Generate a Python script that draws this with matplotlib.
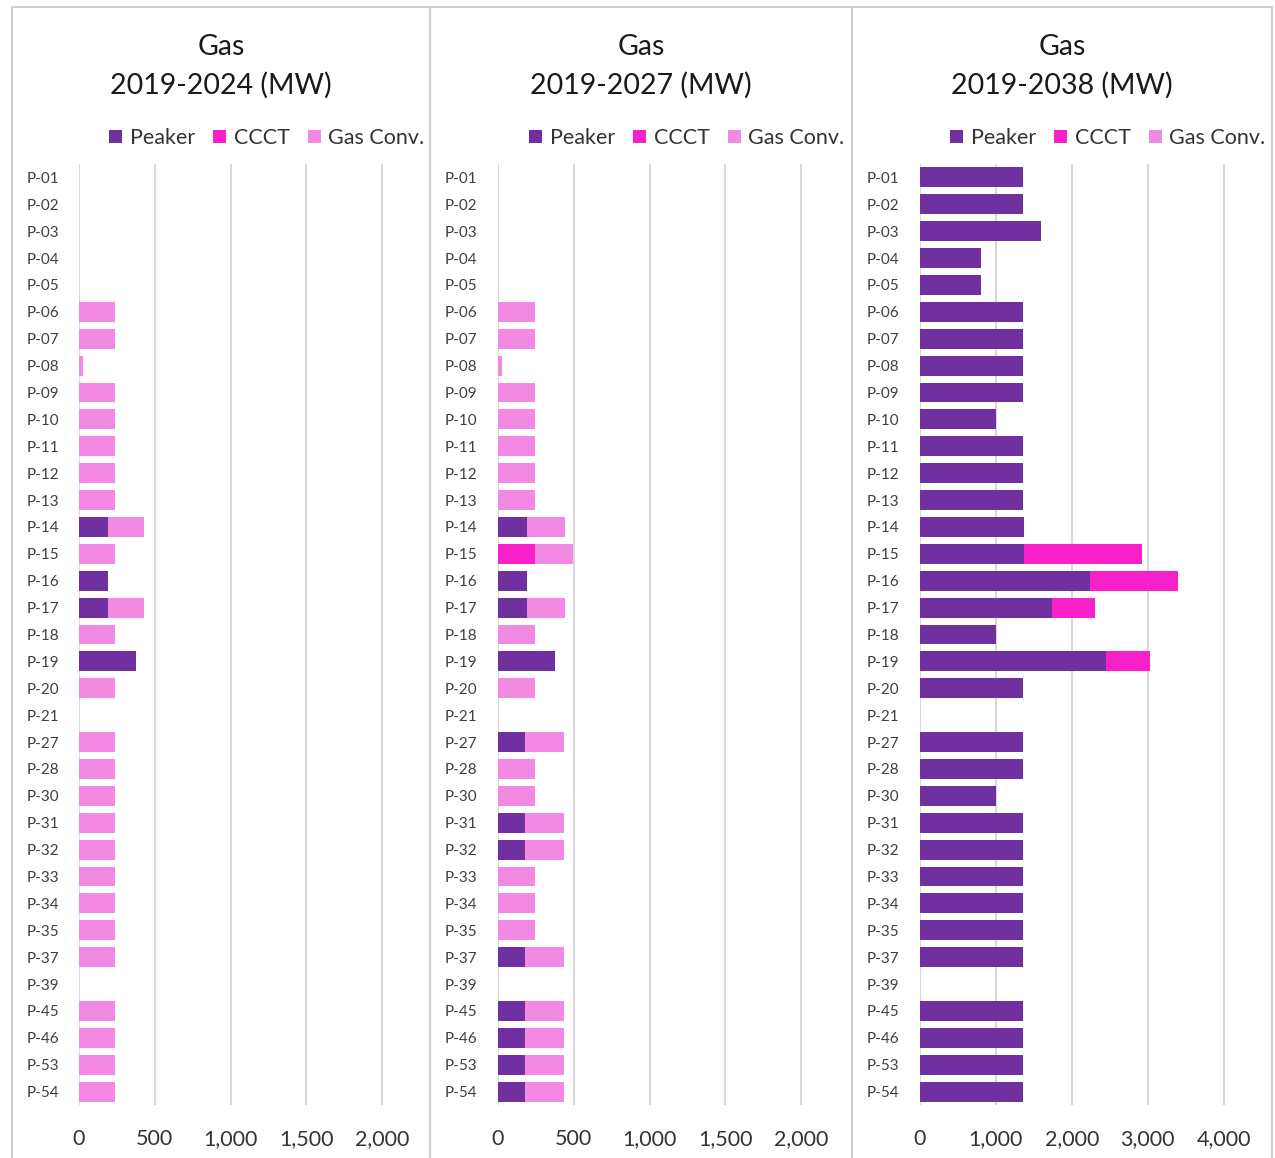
import numpy as np
import matplotlib.pyplot as plt
from matplotlib.patches import Rectangle

W, H = 1275, 1158

SITES = ['P-01', 'P-02', 'P-03', 'P-04', 'P-05', 'P-06', 'P-07', 'P-08', 'P-09', 'P-10',
         'P-11', 'P-12', 'P-13', 'P-14', 'P-15', 'P-16', 'P-17', 'P-18', 'P-19', 'P-20',
         'P-21', 'P-27', 'P-28', 'P-30', 'P-31', 'P-32', 'P-33', 'P-34', 'P-35', 'P-37',
         'P-39', 'P-45', 'P-46', 'P-53', 'P-54']

# 2019-2024
peaker_2024 = [0, 0, 0, 0, 0, 0, 0, 0, 0, 0, 0, 0, 0, 190, 0, 190, 190, 0, 375, 0,
               0, 0, 0, 0, 0, 0, 0, 0, 0, 0, 0, 0, 0, 0, 0]
ccct_2024 = [0] * 35
conv_2024 = [0, 0, 0, 0, 0, 240, 240, 25, 240, 240, 240, 240, 240, 240, 240, 0, 240, 240, 0, 240,
             0, 240, 240, 240, 240, 240, 240, 240, 240, 240, 0, 240, 240, 240, 240]

# 2019-2027
peaker_2027 = [0, 0, 0, 0, 0, 0, 0, 0, 0, 0, 0, 0, 0, 190, 0, 190, 190, 0, 375, 0,
               0, 178, 0, 0, 178, 178, 0, 0, 0, 178, 0, 178, 178, 178, 178]
ccct_2027 = [0, 0, 0, 0, 0, 0, 0, 0, 0, 0, 0, 0, 0, 0, 245, 0, 0, 0, 0, 0,
             0, 0, 0, 0, 0, 0, 0, 0, 0, 0, 0, 0, 0, 0, 0]
conv_2027 = [0, 0, 0, 0, 0, 245, 245, 25, 245, 245, 245, 245, 245, 250, 250, 0, 250, 245, 0, 245,
             0, 255, 245, 245, 255, 255, 245, 245, 245, 255, 0, 255, 255, 255, 255]

# 2019-2038
peaker_2038 = [1360, 1360, 1600, 800, 800, 1360, 1360, 1360, 1360, 1000, 1360, 1360, 1360, 1370,
               1375, 2240, 1735, 1000, 2455, 1360, 0, 1360, 1360, 1000, 1360, 1360, 1360, 1360,
               1360, 1360, 0, 1360, 1360, 1360, 1360]
ccct_2038 = [0, 0, 0, 0, 0, 0, 0, 0, 0, 0, 0, 0, 0, 0, 1555, 1160, 565, 0, 575, 0,
             0, 0, 0, 0, 0, 0, 0, 0, 0, 0, 0, 0, 0, 0, 0]
conv_2038 = [0] * 35

TITLES = ['2019-2024 (MW)', '2019-2027 (MW)', '2019-2038 (MW)']
SERIES = ['Peaker', 'CCCT', 'Gas Conv.']
COLORS = ['#7030A0', '#F820C8', '#F28AE3']

# panel layout in pixels: (panel left, panel right, axes left, xmax, axes right, xticks)
PANELS = [
    (12, 430, 79, 2270, 423, [0, 500, 1000, 1500, 2000]),
    (430, 852, 498, 2270, 842, [0, 500, 1000, 1500, 2000]),
    (852, 1272, 920, 4400, 1254, [0, 1000, 2000, 3000, 4000]),
]
DATA = [(peaker_2024, ccct_2024, conv_2024),
        (peaker_2027, ccct_2027, conv_2027),
        (peaker_2038, ccct_2038, conv_2038)]

plt.rcParams['font.family'] = ['Lato', 'DejaVu Sans']

fig = plt.figure(figsize=(W / 100, H / 100), dpi=100)

AX_TOP, AX_BOT = 164, 1105

for (pl, pr, al, xmax, ar, ticks), title, data in zip(PANELS, TITLES, DATA):
    # panel frame
    fig.add_artist(Rectangle((pl / W, -0.01), (pr - pl) / W, (H - 7) / H + 0.01,
                             transform=fig.transFigure, fill=False,
                             edgecolor='#D0D0D0', linewidth=1.5))
    cx = (pl + pr) / 2 / W
    fig.text(cx, 1 - 47 / H, 'Gas', ha='center', va='center', fontsize=20.5, color='#1a1a1a')
    fig.text(cx, 1 - 85 / H, title, ha='center', va='center',
             fontsize=20.5, color='#1a1a1a')

    ax = fig.add_axes([al / W, 1 - AX_BOT / H, (ar - al) / W, (AX_BOT - AX_TOP) / H])
    y = np.arange(len(SITES))
    left = np.zeros(len(SITES))
    handles = []
    for name, vals, col in zip(SERIES, data, COLORS):
        vals = np.array(vals, dtype=float)
        h = ax.barh(y, vals, left=left, height=0.74, color=col, label=name)
        handles.append(h)
        left += vals

    ax.set_ylim(len(SITES) - 0.5, -0.5)
    ax.set_xlim(0, xmax)
    ax.set_yticks(y)
    ax.set_yticklabels(SITES, fontsize=11, color='#404040')
    ax.set_xticks(ticks)
    ax.set_xticklabels([f'{t:,}' for t in ticks], fontsize=15.5, color='#333333')
    ax.tick_params(axis='both', length=0)
    ax.tick_params(axis='x', pad=17)
    for label in ax.get_yticklabels():
        label.set_horizontalalignment('left')
    ax.tick_params(axis='y', pad=(al - (pl + 15)) * 0.72)
    ax.grid(axis='x', color='#D9D9D9', linewidth=1.5)
    ax.set_axisbelow(True)
    for s in ax.spines.values():
        s.set_visible(False)

    leg_cx = (pr - 8 + pl + 100) / 2 / W
    fig.legend(handles=handles, labels=SERIES, loc='center',
               bbox_to_anchor=(leg_cx, 1 - 138 / H), ncol=3, frameon=False,
               fontsize=15.5, handlelength=0.6, handleheight=0.6, handletextpad=0.35,
               columnspacing=0.85, labelcolor='#333333')

fig.savefig('out.png', dpi=100, facecolor='white')
